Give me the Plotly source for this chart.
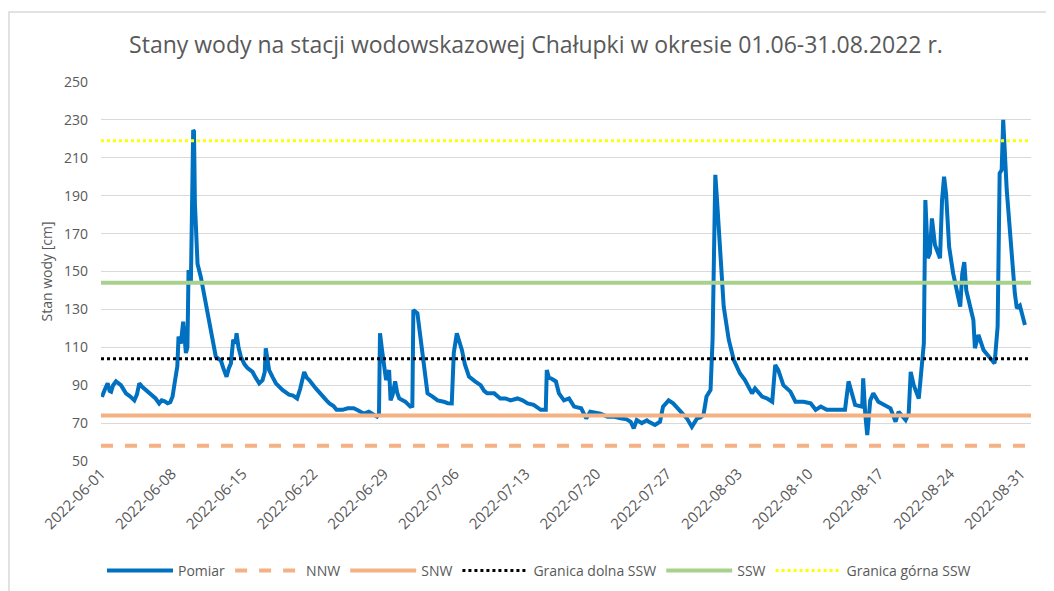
import pandas as pd
import plotly.graph_objects as go

# --- data ---
start_date = "2022-06-01"
# time offsets in days from 2022-06-01 00:00
pomiar_dni = [
    0.0, 0.16, 0.4, 0.66, 0.85, 1.0, 1.2, 1.48, 1.97, 2.47, 2.9, 3.3, 3.55, 3.79, 4.1, 4.45,
    5.0, 5.4, 5.75, 6.0, 6.3, 6.59, 6.85, 7.08, 7.25, 7.41, 7.55, 7.67, 7.9, 8.13, 8.25, 8.4,
    8.55, 8.66, 8.89, 9.05, 9.12, 9.2, 9.29, 9.45, 9.55, 9.88, 10.37, 10.87, 11.2, 11.36, 11.6,
    11.86, 12.1, 12.42, 12.65, 12.85, 13.08, 13.3, 13.41, 13.6, 13.84, 14.2, 14.5, 14.99, 15.3,
    15.65, 15.98, 16.2, 16.3, 16.45, 16.63, 17.0, 17.3, 17.95, 18.6, 19.0, 19.4, 19.7, 20.1,
    20.35, 20.6, 21.25, 21.9, 22.3, 22.6, 23.0, 23.3, 23.9,
    24.4, 25.0, 25.5, 26.0, 26.5, 27.0, 27.3, 27.5, 27.6, 27.8, 28.0, 28.2, 28.5, 28.65, 28.85,
    29.1, 29.3, 29.5, 30.1, 30.6, 30.8, 30.9, 31.3, 31.8, 32.3, 32.8, 33.3, 33.9, 34.3, 34.7,
    34.9, 35.2, 35.4, 35.7, 36.0, 36.4, 37.0, 37.55, 37.9, 38.2, 38.9, 39.5, 40.0, 40.5, 41.2,
    41.7, 42.2, 42.8, 43.5, 44.0, 44.1, 44.3, 44.5, 45.0, 45.3, 45.8, 46.3, 46.8, 47.5, 48.0,
    48.4, 48.9, 49.4, 50.1, 50.7, 51.4, 52.0, 52.4, 52.7, 53.0, 53.5, 54.0, 54.2, 54.8, 55.3,
    55.6, 56.15, 56.6, 57.0, 57.3, 57.96, 58.45,
    58.96, 59.3, 59.6, 59.9, 60.3, 60.5, 60.77, 60.9, 61.3, 61.6, 62.1, 62.6, 63.2, 63.7, 64.4,
    64.7, 65.4, 65.9, 66.4, 66.7, 67.0, 67.5, 68.2, 68.7, 69.5, 70.2, 70.7, 71.2, 71.8, 72.8,
    73.6, 73.95, 74.3, 74.6, 75.3, 75.4, 75.6, 75.8, 76.1, 76.4, 76.9, 77.4, 78.1, 78.6, 78.9,
    79.6, 79.9, 80.1, 80.4, 80.9, 81.4, 81.55, 81.8, 82.0, 82.2, 82.5, 83.0, 83.2, 83.4, 83.6,
    83.9, 84.3, 85.0, 85.2, 85.4, 85.6, 86.3, 86.45, 86.8, 87.3, 87.9, 88.4, 88.7, 88.9, 89.1,
    89.25, 89.6, 89.9, 90.4, 90.6, 90.9, 91.4,
]
pomiar_cm = [
    85, 84.8, 88, 91, 87, 86.6, 90, 92, 90, 85.7, 84, 82, 85, 91, 89, 87.5,
    85, 83, 80.4, 82, 81.5, 80.5, 81, 84, 90, 98, 100, 115.6, 112, 123.5, 118, 107,
    110, 150.8, 143.8, 200, 224.7, 224, 186, 165, 154, 147, 133, 119, 110, 105, 104,
    103, 99, 94.5, 99, 101.5, 114, 112, 117.4, 110, 105, 101, 99, 97, 94,
    91, 92.7, 97, 109.5, 104, 98, 94, 91, 87.5, 85, 84.5, 83, 88, 97,
    94, 92.7, 88.3, 84, 82, 80.4, 79, 77, 77,
    77.8, 77.8, 76.5, 75, 76, 74, 73.4, 75, 117.4, 108.6, 100, 92.7, 98, 82, 85,
    92, 86, 83, 81.3, 78.7, 79, 129.7, 128, 106.8, 85.7, 84, 82, 81.3, 80.5, 80.4,
    107, 117.4, 114, 108.6, 101, 94.5, 92, 90, 87, 85.7, 85.7, 83, 83, 82, 83,
    82, 80.4, 79.6, 77, 77, 98, 94, 93.6, 92, 85.7, 82, 83, 78.7, 77.8, 72.5,
    76, 75.5, 75, 73.4, 73.5, 72.5, 72, 70.7, 67.2, 71.6, 70, 71.5, 70.7, 69, 70.7,
    78.7, 82, 80.4, 78, 76, 72.5, 68,
    72.5, 73, 74.3, 84, 87.5, 114, 201, 191, 152.5, 131.5, 114, 103.3, 96.3, 92.7, 85.7,
    88.3, 84, 83, 81.3, 100.7, 98, 90, 86.6, 81.3, 81.3, 80.4, 77, 78.7, 77, 77,
    77, 92, 85, 79.6, 78.7, 93.6, 75, 63.7, 82, 85.7, 81.3, 79.6, 77.8, 70.7, 76,
    71.6, 75, 97, 90, 83, 112, 187.7, 157, 159.6, 178, 164, 157, 187.7, 200, 191,
    163, 149, 131.5, 149, 155, 140, 124.4, 109.5, 116.5, 108.6, 105, 101.5, 121, 201.8, 203.6,
    230, 193, 172, 138.5, 130.6, 132, 121.8,
]

okres = ["2022-06-01", "2022-09-01"]
progi_nazwy = ["NNW", "SNW", "Granica dolna SSW", "SSW", "Granica górna SSW"]
progi_cm = [58, 74, 104, 144, 219]

y_ticks = [50, 70, 90, 110, 130, 150, 170, 190, 210, 230, 250]
x_tick_dates = pd.date_range("2022-06-01", "2022-08-31", freq="7D")

tytul = "Stany wody na stacji wodowskazowej Chałupki w okresie 01.06-31.08.2022 r."
y_tytul = "Stan wody [cm]"

# --- figure ---
czas = pd.Timestamp(start_date) + pd.to_timedelta(pomiar_dni, unit="D")

styles = {
    "NNW": dict(color="#F4B183", width=4, dash="dash"),
    "SNW": dict(color="#F4B183", width=4, dash="solid"),
    "Granica dolna SSW": dict(color="#000000", width=3, dash="dot"),
    "SSW": dict(color="#A9D18E", width=4, dash="solid"),
    "Granica górna SSW": dict(color="#FFFF00", width=3, dash="dot"),
}

fig = go.Figure()
fig.add_trace(go.Scatter(x=czas, y=pomiar_cm, mode="lines", name="Pomiar",
                         line=dict(color="#0070C0", width=4)))
for n, v in zip(progi_nazwy, progi_cm):
    fig.add_trace(go.Scatter(x=okres, y=[v, v], mode="lines", name=n, line=styles[n]))

font_fam = "Open Sans"
grey = "#595959"

# page body has an 8px margin, so the figure is 8px smaller and shifted
W, H = 1046, 583
L, R, T, B = 93, 23, 74, 130
pw, ph = W - L - R, H - T - B

fig.update_layout(
    width=W, height=H,
    paper_bgcolor="white", plot_bgcolor="white",
    margin=dict(l=L, r=R, t=T, b=B, autoexpand=False),
    font=dict(family=font_fam, color=grey, size=14),
    title=dict(text=tytul, x=(528) / W, xanchor="center", y=1 - 37 / H, yanchor="middle",
               font=dict(family=font_fam, size=23, color=grey)),
    showlegend=True,
    legend=dict(orientation="h", x=(531 - L) / pw, xanchor="center",
                yref="container", y=1 - 563 / H, yanchor="middle",
                font=dict(size=14, color=grey), itemwidth=66, traceorder="normal"),
    xaxis=dict(type="date", range=okres, tickvals=x_tick_dates, tickformat="%Y-%m-%d",
               tickangle=-45, showgrid=False, zeroline=False, showline=False, ticks="",
               tickfont=dict(size=15, color=grey)),
    yaxis=dict(range=[50, 250], tickvals=y_ticks, showgrid=True, gridcolor="#D9D9D9",
               gridwidth=1, zeroline=False, showline=False, ticks="",
               ticklabelstandoff=12,
               title=dict(text=y_tytul, font=dict(size=14, color=grey), standoff=8),
               tickfont=dict(size=14, color=grey)),
    shapes=[dict(type="rect", xref="paper", yref="paper",
                 x0=(1 - L) / pw, x1=(W + 20 - L) / pw,
                 y0=-(H + 20 - (T + ph)) / ph, y1=(T + ph - 4) / ph,
                 line=dict(color="#D9D9D9", width=1.5), fillcolor="rgba(0,0,0,0)",
                 layer="below")],
)

fig.write_html("out.html")
